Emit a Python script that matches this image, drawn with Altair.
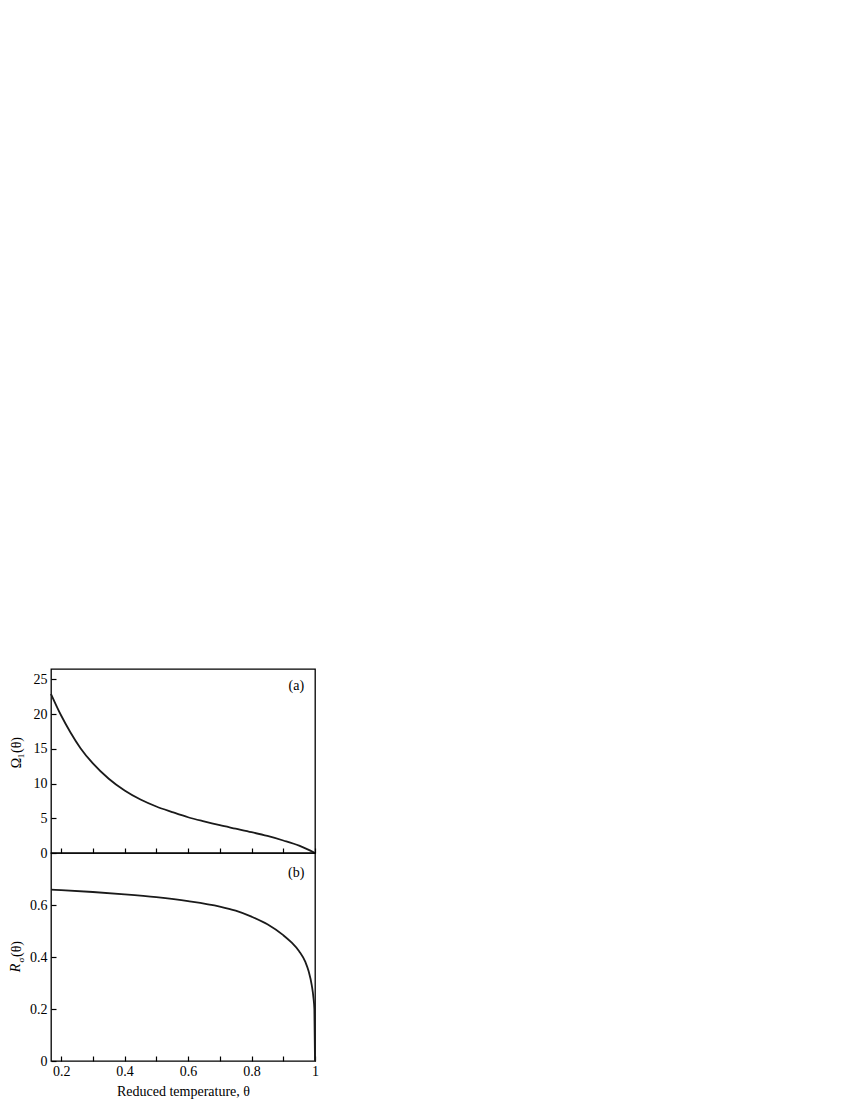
import altair as alt
import pandas as pd

# ---- data ----
theta_a = [0.168, 0.2, 0.229, 0.261, 0.3, 0.35, 0.4, 0.45, 0.5, 0.55, 0.6,
           0.65, 0.7, 0.75, 0.8, 0.85, 0.9, 0.95, 0.975, 1.0]
omega_a = [22.9, 19.8, 17.4, 15.1, 12.9, 10.7, 9.0, 7.7, 6.7, 5.9, 5.15,
           4.55, 4.0, 3.5, 3.0, 2.45, 1.8, 1.05, 0.55, 0.0]

theta_b = [0.168, 0.2, 0.3, 0.4, 0.5, 0.6, 0.7, 0.75, 0.8, 0.85, 0.9, 0.925,
           0.95, 0.97, 0.98, 0.99, 0.995, 0.998, 1.0]
r_b = [0.659, 0.657, 0.650, 0.641, 0.630, 0.615, 0.594, 0.578, 0.555, 0.526,
       0.484, 0.457, 0.422, 0.38, 0.345, 0.29, 0.245, 0.20, 0.0]

x_ticks = [0.2, 0.3, 0.4, 0.5, 0.6, 0.7, 0.8, 0.9, 1.0]
y_ticks_a = [0, 5, 10, 15, 20, 25]
y_ticks_b = [0, 0.2, 0.4, 0.6]
x_domain = [0.168, 1.0]
y_domain_a = [0, 26.5]
y_domain_b = [0, 0.8]

panel_labels = ["(a)", "(b)"]
panel_label_x = [0.941, 0.941]
panel_label_y = [24.0, 0.722]

FONT = "Liberation Serif"
FS = 14
W = 264
HA = 184
HB = 208

df_a = pd.DataFrame({"theta": theta_a, "val": omega_a})
df_b = pd.DataFrame({"theta": theta_b, "val": r_b})

xscale = alt.Scale(domain=x_domain, nice=False, zero=False)
yscale_a = alt.Scale(domain=y_domain_a, nice=False, zero=False)
yscale_b = alt.Scale(domain=y_domain_b, nice=False, zero=False)

common_axis = dict(offset=-5, tickSize=5, domain=False, grid=False,
                   tickColor="black", tickWidth=1.2, labelColor="black",
                   labelFont=FONT, labelFontSize=FS, labelFlush=False,
                   labelOverlap=False, titleFont=FONT, titleFontSize=FS,
                   titleFontWeight="normal", titleColor="black")

x_axis_a = alt.Axis(values=x_ticks, labels=False, title=None, **common_axis)
x_axis_b = alt.Axis(values=x_ticks, title="Reduced temperature, θ",
                    labelExpr="round(datum.value*10) % 2 == 0 ? (datum.value == 1 ? '1' : format(datum.value, '.1f')) : ''",
                    labelPadding=3, titlePadding=6, **common_axis)
y_axis_a = alt.Axis(values=y_ticks_a, title=None, labelPadding=4, **common_axis)
y_axis_b = alt.Axis(values=y_ticks_b, title=None, labelPadding=4,
                    labelExpr="datum.value == 0 ? '0' : format(datum.value, '.1f')",
                    **common_axis)

line_a = alt.Chart(df_a).mark_line(color="#1a1a1a", strokeWidth=1.8,
                                   interpolate="monotone").encode(
    x=alt.X("theta:Q", scale=xscale, axis=x_axis_a),
    y=alt.Y("val:Q", scale=yscale_a, axis=y_axis_a),
)
line_b = alt.Chart(df_b).mark_line(color="#1a1a1a", strokeWidth=1.8,
                                   interpolate="monotone").encode(
    x=alt.X("theta:Q", scale=xscale, axis=x_axis_b),
    y=alt.Y("val:Q", scale=yscale_b, axis=y_axis_b),
)

lab_a = alt.Chart(pd.DataFrame({"theta": [panel_label_x[0]], "val": [panel_label_y[0]],
                                "t": [panel_labels[0]]})).mark_text(
    font=FONT, fontSize=FS, color="black").encode(
    x=alt.X("theta:Q", scale=xscale, axis=x_axis_a),
    y=alt.Y("val:Q", scale=yscale_a, axis=y_axis_a), text="t:N")
lab_b = alt.Chart(pd.DataFrame({"theta": [panel_label_x[1]], "val": [panel_label_y[1]],
                                "t": [panel_labels[1]]})).mark_text(
    font=FONT, fontSize=FS, color="black").encode(
    x=alt.X("theta:Q", scale=xscale, axis=x_axis_b),
    y=alt.Y("val:Q", scale=yscale_b, axis=y_axis_b), text="t:N")


def rot_text(txt, x, y, size=FS, style="normal"):
    return alt.Chart(pd.DataFrame({"t": [txt]})).mark_text(
        font=FONT, fontSize=size, fontStyle=style, color="black", angle=270,
        align="center", baseline="middle").encode(
        x=alt.value(x), y=alt.value(y), text="t:N")


title_a = (rot_text("Ω", -34, 94) + rot_text("1", -30, 87, size=9)
           + rot_text("(θ)", -34, 76))
title_b = (rot_text("R", -35, 115, style="italic") + rot_text("σ", -30, 107, size=9)
           + rot_text("(θ)", -34, 96))

top = alt.layer(line_a, lab_a, title_a).properties(width=W, height=HA)
bottom = alt.layer(line_b, lab_b, title_b).properties(width=W, height=HB)

chart = alt.vconcat(top, bottom, spacing=0, bounds="flush").properties(
    padding={"left": 0, "top": 660, "right": 10, "bottom": 5},
    background="white",
).configure_view(stroke="black", strokeWidth=1.3)

chart.save("out.html", embed_options={"renderer": "svg", "actions": False})
